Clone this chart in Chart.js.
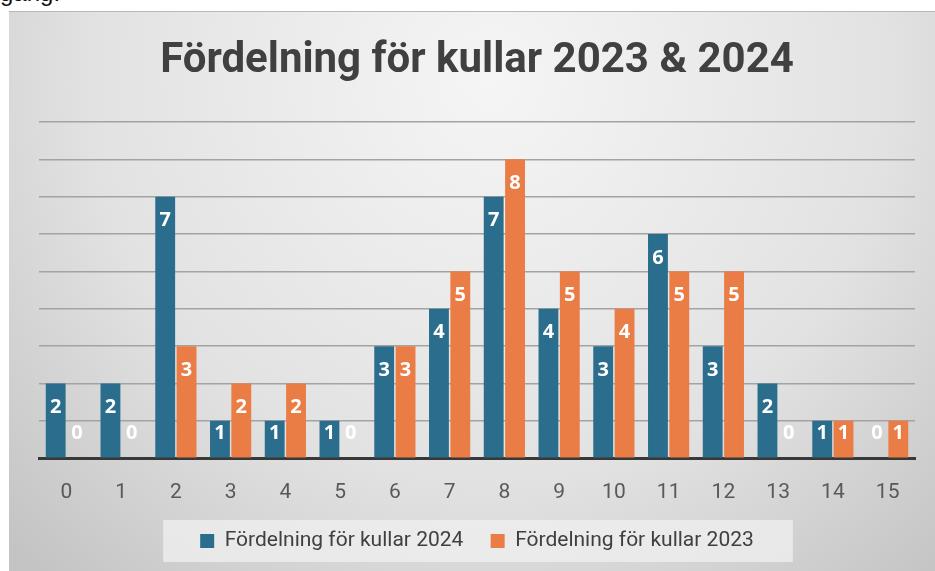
<!DOCTYPE html>
<html>
<head>
<meta charset="utf-8">
<script src="https://cdn.jsdelivr.net/npm/chart.js@4"></script>
<style>
  body { margin: 0; background: #fff; width: 935px; height: 571px; overflow: hidden; position: relative; }
  #note { position: absolute; left: 0; top: -19px; font: 24px "Liberation Sans", Arial, sans-serif; color: #111; line-height: 1; }
  #box { position: absolute; left: 9px; top: 11px; width: 926px; height: 560px; border-top: 1px solid #b8b8b8; box-sizing: border-box; overflow: hidden; }
  canvas { display: block; }
</style>
</head>
<body>
<div id="note">gång.</div>
<div id="box"><canvas id="chart" width="926" height="559"></canvas></div>
<script>
const categories = ['0', '1', '2', '3', '4', '5', '6', '7', '8', '9', '10', '11', '12', '13', '14', '15'];
const kullar2024 = [2, 2, 7, 1, 1, 1, 3, 4, 7, 4, 3, 6, 3, 2, 1, 0];
const kullar2023 = [0, 0, 3, 2, 2, 0, 3, 5, 8, 5, 4, 5, 5, 0, 1, 1];
const yMax = 9;

// grey radial background + lighter box behind the legend
const background = {
  id: 'background',
  beforeDraw(chart) {
    const ctx = chart.ctx;
    const w = chart.width, h = chart.height;
    ctx.save();
    const g = ctx.createRadialGradient(w * 0.52, h * 0.12, 0, w * 0.52, h * 0.12, w * 0.72);
    g.addColorStop(0, '#f5f5f5');
    g.addColorStop(0.6, '#e2e2e2');
    g.addColorStop(1, '#c4c4c4');
    ctx.fillStyle = g;
    ctx.fillRect(0, 0, w, h);

    const hit = chart.legend.legendHitBoxes;
    if (hit && hit.length) {
      const left = Math.min(...hit.map(b => b.left)) - 37;
      const right = Math.max(...hit.map(b => b.left + b.width)) + 39;
      const mid = hit[0].top + hit[0].height / 2;
      ctx.fillStyle = 'rgba(240,240,240,0.75)';
      ctx.fillRect(left, mid - 21, right - left, 42);
    }
    ctx.restore();
  }
};

// white value labels near the top of each bar
const valueLabels = {
  id: 'valueLabels',
  afterDatasetsDraw(chart) {
    const ctx = chart.ctx;
    const base = chart.scales.y.getPixelForValue(0);
    ctx.save();
    ctx.font = 'bold 20px "Open Sans"';
    ctx.fillStyle = '#fff';
    ctx.textAlign = 'center';
    ctx.textBaseline = 'middle';
    chart.data.datasets.forEach((ds, i) => {
      chart.getDatasetMeta(i).data.forEach((bar, j) => {
        const y = Math.min(bar.y + 24, base - 25);
        ctx.fillText(String(ds.data[j]), bar.x, y);
      });
    });
    ctx.restore();
  }
};

new Chart(document.getElementById('chart'), {
  type: 'bar',
  data: {
    labels: categories,
    datasets: [
      { label: 'Fördelning för kullar 2024', data: kullar2024, backgroundColor: '#2a6d8c' },
      { label: 'Fördelning för kullar 2023', data: kullar2023, backgroundColor: '#ea7c45' }
    ]
  },
  options: {
    responsive: false,
    animation: false,
    layout: { padding: { left: 30, right: 20, top: 0, bottom: 9.5 } },
    datasets: { bar: { barPercentage: 0.93, categoryPercentage: 0.78 } },
    plugins: {
      title: {
        display: true,
        text: 'Fördelning för kullar 2023 & 2024',
        color: '#404040',
        font: { family: 'Roboto', size: 42, weight: 'bold' },
        padding: { top: 24, bottom: 35.6 }
      },
      legend: {
        position: 'bottom',
        labels: {
          color: '#404040',
          font: { family: 'Roboto', size: 21 },
          boxWidth: 14,
          boxHeight: 14,
          padding: 27.3
        }
      },
      tooltip: { enabled: false }
    },
    scales: {
      x: {
        grid: { display: false, drawTicks: false },
        border: { color: '#383838', width: 3 },
        ticks: { color: '#595959', font: { family: 'Roboto', size: 21 }, padding: 22 },
        afterFit(scale) { scale.height = 45; }
      },
      y: {
        min: 0,
        max: yMax,
        ticks: { display: false, stepSize: 1 },
        grid: { color: '#a3a3a3', lineWidth: 1.5, drawTicks: false },
        border: { display: false }
      }
    }
  },
  plugins: [background, valueLabels]
});
</script>
</body>
</html>
